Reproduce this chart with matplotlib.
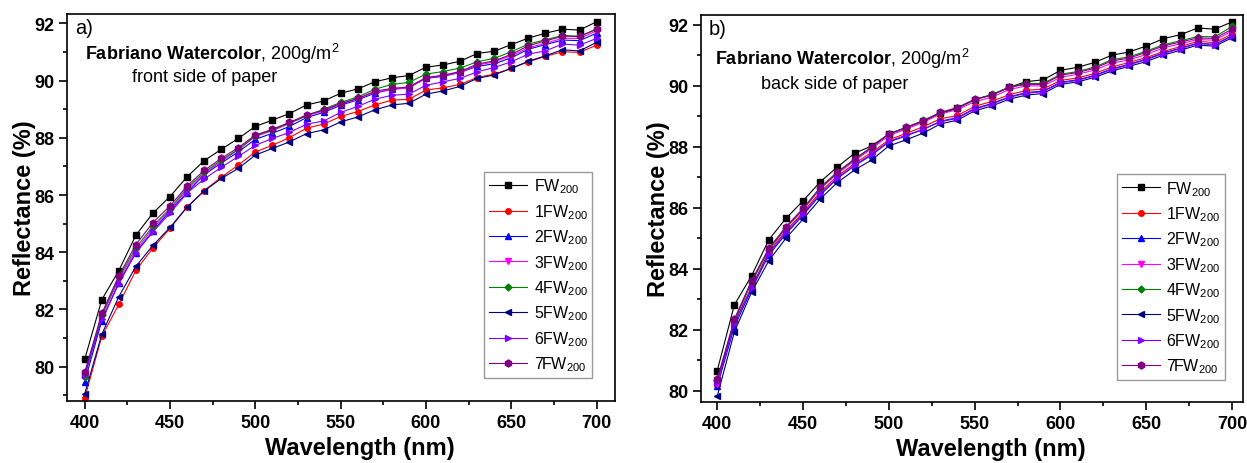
import matplotlib
matplotlib.use('Agg')
import matplotlib.pyplot as plt
from matplotlib.ticker import MultipleLocator

# fonts: Arial-like look
plt.rcParams['font.family'] = 'Liberation Sans'
plt.rcParams['mathtext.fontset'] = 'custom'
plt.rcParams['mathtext.rm'] = 'Liberation Sans'
plt.rcParams['mathtext.bf'] = 'Liberation Sans:bold'

wavelength = list(range(400, 701, 10))

# a) front side of paper
front_FW = [80.26, 82.34, 83.36, 84.60, 85.37, 85.95, 86.64, 87.20, 87.60, 87.98, 88.40, 88.62, 88.85, 89.15, 89.29, 89.56,
            89.71, 89.96, 90.10, 90.18, 90.47, 90.55, 90.68, 90.95, 91.03, 91.26, 91.49, 91.66, 91.80, 91.77, 92.06]
front_1FW = [78.90, 81.06, 82.18, 83.37, 84.15, 84.84, 85.58, 86.16, 86.62, 87.05, 87.51, 87.74, 88.01, 88.34, 88.48, 88.75,
             88.92, 89.15, 89.32, 89.35, 89.67, 89.75, 89.87, 90.11, 90.23, 90.43, 90.66, 90.85, 91.01, 90.99, 91.24]
front_2FW = [79.48, 81.60, 82.94, 83.99, 84.75, 85.45, 86.09, 86.71, 87.12, 87.51, 87.95, 88.16, 88.40, 88.71, 88.89, 89.14,
             89.33, 89.56, 89.70, 89.76, 90.08, 90.15, 90.29, 90.50, 90.59, 90.80, 91.10, 91.26, 91.42, 91.40, 91.66]
front_3FW = [79.75, 81.75, 83.05, 84.05, 84.85, 85.48, 86.18, 86.74, 87.18, 87.58, 88.05, 88.25, 88.50, 88.77, 88.94, 89.18,
             89.36, 89.59, 89.70, 89.75, 90.09, 90.17, 90.29, 90.54, 90.66, 90.87, 91.15, 91.31, 91.48, 91.48, 91.74]
front_4FW = [79.64, 81.80, 83.12, 84.15, 84.92, 85.53, 86.25, 86.79, 87.22, 87.60, 88.07, 88.28, 88.52, 88.78, 89.00, 89.24,
             89.43, 89.70, 89.87, 89.94, 90.23, 90.32, 90.44, 90.66, 90.78, 91.01, 91.28, 91.43, 91.58, 91.55, 91.80]
front_5FW = [79.05, 81.13, 82.45, 83.51, 84.24, 84.87, 85.58, 86.14, 86.58, 86.93, 87.40, 87.63, 87.86, 88.15, 88.28, 88.56,
             88.73, 88.98, 89.15, 89.21, 89.53, 89.64, 89.80, 90.08, 90.20, 90.43, 90.68, 90.87, 91.08, 91.04, 91.34]
front_6FW = [79.70, 81.65, 82.90, 83.99, 84.71, 85.37, 86.07, 86.56, 86.97, 87.35, 87.74, 87.98, 88.19, 88.48, 88.59, 88.89,
             89.10, 89.35, 89.49, 89.53, 89.84, 89.96, 90.08, 90.31, 90.46, 90.66, 90.93, 91.04, 91.28, 91.24, 91.48]
front_7FW = [79.80, 81.86, 83.18, 84.27, 85.04, 85.62, 86.32, 86.86, 87.28, 87.66, 88.10, 88.30, 88.54, 88.80, 88.97, 89.20,
             89.38, 89.63, 89.73, 89.78, 90.11, 90.19, 90.32, 90.58, 90.69, 90.92, 91.22, 91.39, 91.55, 91.55, 91.80]

# b) back side of paper
back_FW = [80.66, 82.82, 83.77, 84.95, 85.65, 86.23, 86.85, 87.34, 87.79, 88.03, 88.42, 88.62, 88.85, 89.10, 89.26, 89.55,
           89.70, 89.95, 90.14, 90.20, 90.51, 90.61, 90.77, 91.01, 91.11, 91.31, 91.55, 91.68, 91.90, 91.86, 92.10]
back_1FW = [80.20, 82.25, 83.40, 84.55, 85.25, 85.85, 86.52, 87.04, 87.45, 87.82, 88.23, 88.44, 88.66, 88.92, 89.03, 89.33,
            89.49, 89.71, 89.85, 89.90, 90.18, 90.26, 90.41, 90.62, 90.77, 90.93, 91.13, 91.29, 91.46, 91.42, 91.70]
back_2FW = [80.15, 82.10, 83.33, 84.45, 85.14, 85.76, 86.42, 86.96, 87.38, 87.73, 88.16, 88.36, 88.57, 88.84, 88.96, 89.26,
            89.42, 89.64, 89.78, 89.83, 90.12, 90.20, 90.35, 90.56, 90.71, 90.88, 91.08, 91.24, 91.40, 91.36, 91.64]
back_3FW = [80.22, 82.30, 83.58, 84.62, 85.33, 85.93, 86.62, 87.12, 87.54, 87.94, 88.37, 88.58, 88.80, 89.08, 89.22, 89.48,
            89.63, 89.88, 90.00, 90.00, 90.28, 90.38, 90.52, 90.75, 90.85, 91.03, 91.25, 91.38, 91.52, 91.50, 91.80]
back_4FW = [80.35, 82.30, 83.55, 84.62, 85.35, 85.95, 86.64, 87.15, 87.58, 87.98, 88.43, 88.63, 88.87, 89.12, 89.28, 89.55,
            89.72, 89.96, 90.08, 90.08, 90.38, 90.47, 90.62, 90.86, 90.95, 91.14, 91.35, 91.48, 91.62, 91.61, 91.95]
back_5FW = [79.82, 81.93, 83.23, 84.26, 85.00, 85.63, 86.29, 86.83, 87.24, 87.57, 88.03, 88.23, 88.45, 88.75, 88.88, 89.18,
            89.34, 89.56, 89.70, 89.75, 90.05, 90.13, 90.28, 90.49, 90.64, 90.80, 91.01, 91.17, 91.34, 91.30, 91.58]
back_6FW = [80.30, 82.20, 83.38, 84.50, 85.20, 85.80, 86.46, 86.98, 87.40, 87.76, 88.18, 88.38, 88.58, 88.82, 88.94, 89.24,
            89.40, 89.62, 89.76, 89.81, 90.10, 90.18, 90.33, 90.54, 90.69, 90.86, 91.06, 91.22, 91.39, 91.35, 91.63]
back_7FW = [80.38, 82.35, 83.61, 84.67, 85.38, 85.98, 86.67, 87.18, 87.60, 88.00, 88.42, 88.64, 88.85, 89.13, 89.29, 89.56,
            89.70, 89.95, 90.05, 90.05, 90.35, 90.44, 90.58, 90.82, 90.91, 91.10, 91.31, 91.44, 91.57, 91.56, 91.86]

labels = ['FW$_{200}$', '1FW$_{200}$', '2FW$_{200}$', '3FW$_{200}$',
          '4FW$_{200}$', '5FW$_{200}$', '6FW$_{200}$', '7FW$_{200}$']
colors = ['black', 'red', 'blue', 'magenta', 'green', 'navy', '#8000FF', 'purple']
markers = ['s', 'o', '^', 'v', 'D', '<', '>', 'h']
msizes = [4, 4, 4.5, 4.5, 3.5, 4.5, 4.5, 5]

front = [front_FW, front_1FW, front_2FW, front_3FW, front_4FW, front_5FW, front_6FW, front_7FW]
back = [back_FW, back_1FW, back_2FW, back_3FW, back_4FW, back_5FW, back_6FW, back_7FW]

fig = plt.figure(figsize=(12.47, 4.64), dpi=100)
ax1 = fig.add_axes([0.0537, 0.1336, 0.4395, 0.834])
ax2 = fig.add_axes([0.5621, 0.1308, 0.4347, 0.835])


def draw(ax, data, letter, side, xlim, ylim, leg_pos, txt_pos):
    for y, lab, c, m, ms in zip(data, labels, colors, markers, msizes):
        ax.plot(wavelength, y, color=c, marker=m, markersize=ms, linewidth=0.8, label=lab)
    ax.set_xlim(*xlim)
    ax.set_ylim(*ylim)
    ax.xaxis.set_major_locator(MultipleLocator(50))
    ax.xaxis.set_minor_locator(MultipleLocator(25))
    ax.yaxis.set_major_locator(MultipleLocator(2))
    ax.yaxis.set_minor_locator(MultipleLocator(1))
    ax.tick_params(which='both', direction='out', width=1.2, labelsize=13, pad=3)
    ax.tick_params(which='major', length=6)
    ax.tick_params(which='minor', length=3)
    for lbl in ax.get_xticklabels() + ax.get_yticklabels():
        lbl.set_fontweight('bold')
    for sp in ax.spines.values():
        sp.set_linewidth(1.2)
    ax.set_xlabel('Wavelength (nm)', fontsize=17, fontweight='bold')
    ax.set_ylabel('Reflectance (%)', fontsize=17, fontweight='bold')
    ax.xaxis.set_label_coords(0.535, -0.09)
    ax.yaxis.set_label_coords(-0.057, 0.5)
    ax.text(0.015, 0.99, letter, transform=ax.transAxes, fontsize=14.5, va='top', ha='left')
    x1, y1, x2, y2 = txt_pos
    ax.text(x1, y1, r'$\bf{Fabriano\ Watercolor}$, 200g/m$^2$', transform=ax.transAxes,
            fontsize=13, ha='center', va='baseline')
    ax.text(x2, y2, side, transform=ax.transAxes, fontsize=13, ha='center', va='baseline')
    leg = ax.legend(loc='upper left', bbox_to_anchor=leg_pos, fontsize=11.5, frameon=True,
                    fancybox=False, edgecolor='gray', borderpad=0.3, labelspacing=0.42,
                    handlelength=2.4, handletextpad=0.4, borderaxespad=0)
    leg.get_frame().set_linewidth(1.0)


draw(ax1, front, 'a)', 'front side of paper', (389.6, 710.8), (78.8, 92.33), (0.761, 0.592),
     (0.2646, 0.885, 0.251, 0.828))
draw(ax2, back, 'b)', 'back side of paper', (390.5, 706.4), (79.62, 92.33), (0.7675, 0.589),
     (0.260, 0.872, 0.247, 0.810))

fig.savefig('out.png', dpi=100)
